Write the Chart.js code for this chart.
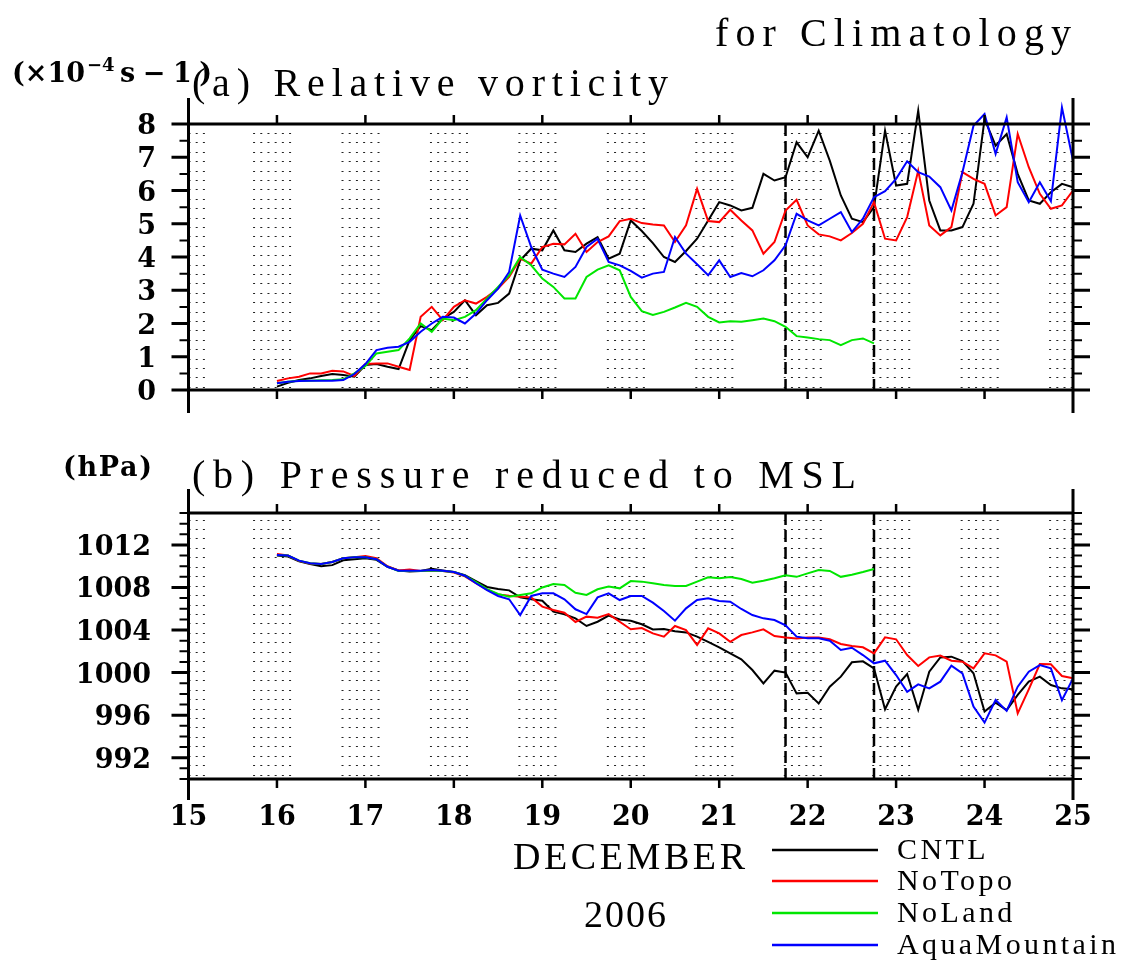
<!DOCTYPE html>
<html><head><meta charset="utf-8">
<script src="https://cdn.jsdelivr.net/npm/chart.js@4"></script>
<style>
html,body{margin:0;padding:0;background:#fff;}
#wrap{position:relative;width:1131px;height:964px;background:#fff;overflow:hidden;}
canvas{position:absolute;left:0;top:0;}
</style></head><body>
<div id="wrap"><canvas id="c1" width="1131" height="964"></canvas><canvas id="c2" width="1131" height="964"></canvas></div>
<script>
// ---- DATA ----
const TIMES = [16.000,16.125,16.250,16.375,16.500,16.625,16.750,16.875,17.000,17.125,17.250,17.375,17.500,17.625,17.750,17.875,18.000,18.125,18.250,18.375,18.500,18.625,18.750,18.875,19.000,19.125,19.250,19.375,19.500,19.625,19.750,19.875,20.000,20.125,20.250,20.375,20.500,20.625,20.750,20.875,21.000,21.125,21.250,21.375,21.500,21.625,21.750,21.875,22.000,22.125,22.250,22.375,22.500,22.625,22.750,22.875,23.000,23.125,23.250,23.375,23.500,23.625,23.750,23.875,24.000,24.125,24.250,24.375,24.500,24.625,24.750,24.875,25.000];

const SERIES = ['CNTL','NoTopo','NoLand','AquaMountain'];

// (a) Relative vorticity (x10^-4 s-1)
const vortCNTL = [0.1,0.22,0.3,0.35,0.42,0.48,0.45,0.4,0.75,0.78,0.7,0.63,1.5,1.92,1.8,2.15,2.35,2.7,2.25,2.55,2.62,2.9,3.9,4.25,4.2,4.8,4.2,4.15,4.4,4.6,3.95,4.1,5.1,4.78,4.42,4.0,3.85,4.18,4.55,5.1,5.65,5.55,5.4,5.48,6.5,6.3,6.4,7.45,7.0,7.8,6.9,5.85,5.15,5.05,5.5,7.8,6.15,6.2,8.4,5.7,4.8,4.8,4.9,5.6,8.15,7.35,7.7,6.5,5.7,5.6,5.95,6.2,6.1];
const vortNoTopo = [0.27,0.35,0.4,0.5,0.5,0.58,0.56,0.42,0.78,0.8,0.8,0.7,0.6,2.2,2.5,2.1,2.5,2.7,2.6,2.8,3.05,3.4,3.95,3.8,4.3,4.4,4.38,4.7,4.15,4.45,4.62,5.08,5.15,5.02,4.98,4.95,4.45,4.95,6.05,5.08,5.05,5.42,5.1,4.8,4.1,4.45,5.4,5.72,4.95,4.68,4.62,4.5,4.72,5.0,5.65,4.55,4.5,5.2,6.6,4.95,4.65,4.9,6.55,6.35,6.2,5.25,5.5,7.7,6.7,5.9,5.45,5.55,6.0];
const vortNoLand = [0.2,0.25,0.28,0.28,0.29,0.3,0.32,0.5,0.72,1.1,1.15,1.2,1.55,2.0,1.75,2.15,2.1,2.2,2.4,2.75,3.1,3.45,4.0,3.75,3.35,3.1,2.75,2.75,3.4,3.62,3.75,3.6,2.8,2.37,2.26,2.35,2.48,2.62,2.5,2.2,2.03,2.07,2.05,2.1,2.15,2.07,1.9,1.62,1.58,1.53,1.5,1.35,1.5,1.55,1.4,null,null,null,null,null,null,null,null,null,null,null,null,null,null,null,null,null,null];
const vortAqua = [0.2,0.25,0.27,0.28,0.28,0.28,0.3,0.48,0.78,1.2,1.27,1.3,1.45,1.75,2.0,2.2,2.18,2.0,2.3,2.7,3.05,3.55,5.25,4.3,3.62,3.5,3.4,3.7,4.3,4.55,3.85,3.75,3.58,3.38,3.5,3.55,4.6,4.1,3.78,3.45,3.9,3.4,3.52,3.42,3.6,3.9,4.35,5.3,5.1,4.95,5.15,5.35,4.75,5.15,5.8,5.98,6.35,6.88,6.55,6.42,6.1,5.4,6.55,7.95,8.3,7.1,8.2,6.25,5.65,6.25,5.68,8.5,6.9];

// (b) Pressure reduced to MSL (hPa)
const presCNTL = [1011.0,1010.9,1010.45,1010.2,1010.0,1010.1,1010.55,1010.65,1010.75,1010.6,1009.95,1009.6,1009.5,1009.55,1009.75,1009.6,1009.45,1009.15,1008.6,1008.05,1007.85,1007.73,1007.07,1006.89,1006.76,1005.73,1005.48,1005.1,1004.38,1004.78,1005.35,1005.0,1004.88,1004.54,1004.06,1004.1,1003.88,1003.78,1003.38,1002.88,1002.38,1001.81,1001.25,1000.24,998.99,1000.18,1000.0,998.05,998.1,997.1,998.68,999.62,1000.97,1001.06,1000.4,996.55,998.68,999.87,996.5,1000.09,1001.43,1001.5,1001.09,999.93,996.33,997.17,996.48,997.9,999.15,999.62,998.83,998.52,998.43];
const presNoTopo = [1011.15,1011.0,1010.5,1010.25,1010.2,1010.4,1010.75,1010.85,1010.95,1010.75,1010.0,1009.6,1009.7,1009.55,1009.6,1009.55,1009.4,1009.05,1008.4,1007.8,1007.35,1007.23,1007.14,1007.07,1006.2,1005.88,1005.63,1004.76,1005.26,1005.16,1005.5,1004.78,1004.07,1004.19,1003.69,1003.38,1004.38,1004.0,1002.6,1004.16,1003.69,1002.9,1003.53,1003.78,1004.07,1003.44,1003.3,1003.2,1003.31,1003.31,1003.13,1002.69,1002.5,1002.38,1001.81,1003.31,1003.13,1001.65,1000.62,1001.43,1001.6,1001.12,1001.03,1000.4,1001.81,1001.62,1001.03,996.17,998.43,1000.8,1000.78,999.68,999.46];
const presNoLand = [1011.05,1011.0,1010.52,1010.27,1010.2,1010.4,1010.74,1010.83,1010.83,1010.65,1009.95,1009.55,1009.55,1009.55,1009.6,1009.55,1009.45,1009.1,1008.5,1007.85,1007.4,1007.14,1007.3,1007.45,1008.0,1008.33,1008.23,1007.5,1007.3,1007.83,1008.08,1007.92,1008.6,1008.55,1008.39,1008.23,1008.14,1008.14,1008.55,1008.95,1008.86,1008.98,1008.8,1008.45,1008.64,1008.86,1009.14,1009.0,1009.33,1009.64,1009.55,1009.0,1009.2,1009.45,1009.74,null,null,null,null,null,null,null,null,null,null,null,null,null,null,null,null,null,null];
const presAqua = [1011.05,1011.0,1010.52,1010.27,1010.2,1010.4,1010.74,1010.83,1010.83,1010.65,1009.95,1009.58,1009.58,1009.58,1009.65,1009.58,1009.45,1009.1,1008.4,1007.75,1007.2,1006.89,1005.41,1007.2,1007.45,1007.45,1006.89,1005.95,1005.5,1007.07,1007.45,1006.82,1007.2,1007.2,1006.57,1005.79,1004.88,1006.04,1006.82,1006.98,1006.73,1006.67,1005.98,1005.41,1005.1,1004.94,1004.44,1003.38,1003.22,1003.22,1003.0,1002.12,1002.34,1001.65,1000.87,1001.12,999.77,998.2,998.9,998.52,999.15,1000.65,999.93,996.8,995.3,997.42,996.4,998.68,1000.09,1000.7,1000.4,997.4,999.46];

// tick labels and markers
const DAY_TICKS = [15,16,17,18,19,20,21,22,23,24,25];
const VORT_TICKS = [0,1,2,3,4,5,6,7,8];
const PRES_TICKS = [992,996,1000,1004,1008,1012];
const EVENT_LINES = [21.75, 22.75];
const NIGHT = [[14.73,15.21],[15.73,16.21],[16.73,17.21],[17.73,18.21],[18.73,19.21],[19.73,20.21],[20.73,21.21],[21.73,22.21],[22.73,23.21],[23.73,24.21],[24.73,25.21]];

// ---- STYLE ----
const COLORS = ['#000000','#ff0000','#00e600','#0000ff'];
const TICK_FONT = 'bold 27px "DejaVu Serif"';
const TITLE_FONT = '40px "Liberation Serif"';

function mkds(vals, i){
  return {label: SERIES[i], data: TIMES.map((t,k)=>({x:t, y:vals[k]})), borderColor: COLORS[i],
    backgroundColor: COLORS[i], borderWidth: 2, pointRadius: 0, tension: 0, fill: false,
    clip: false, order: 4 - i, spanGaps: false};
}

function fitText(ctx, text, x, y, font, width){
  ctx.font = font;
  ctx.letterSpacing = '0px';
  const w0 = ctx.measureText(text).width;
  const n = Array.from(text).length;
  const sp = n > 1 ? (width - w0) / (n - 1) : 0;
  ctx.letterSpacing = sp + 'px';
  ctx.textAlign = 'left';
  ctx.textBaseline = 'alphabetic';
  ctx.fillText(text, x, y);
  ctx.letterSpacing = '0px';
}

function panelPlugin(cfg){
  return {
    id: 'panel_' + cfg.name,
    beforeDatasetsDraw(chart){
      const ctx = chart.ctx, a = chart.chartArea, xs = chart.scales.x;
      ctx.save();
      ctx.strokeStyle = '#222';
      ctx.lineWidth = 1;
      ctx.setLineDash([2, 5.2]);
      for (const [s, e] of NIGHT){
        const t0 = Math.max(15, s), t1 = Math.min(25, e);
        if (t1 <= t0) continue;
        const x0 = xs.getPixelForValue(t0), x1 = xs.getPixelForValue(t1);
        for (let k = 0; k < 28; k++){
          const yy = Math.round(a.top + cfg.rowOff + k * cfg.rowStep) + 0.5;
          ctx.beginPath(); ctx.moveTo(x0, yy); ctx.lineTo(x1, yy); ctx.stroke();
        }
      }
      ctx.strokeStyle = '#000';
      ctx.lineWidth = 2.5;
      ctx.setLineDash([12, 5]);
      for (const t of EVENT_LINES){
        const xx = xs.getPixelForValue(t);
        ctx.beginPath(); ctx.moveTo(xx, a.top); ctx.lineTo(xx, a.bottom); ctx.stroke();
      }
      ctx.restore();
    },
    afterDatasetsDraw(chart){
      const ctx = chart.ctx, a = chart.chartArea, xs = chart.scales.x, ys = chart.scales.y;
      ctx.save();
      ctx.setLineDash([]);
      ctx.strokeStyle = '#000';
      ctx.fillStyle = '#000';
      ctx.lineCap = 'butt';
      ctx.lineWidth = 3;
      ctx.beginPath();
      ctx.moveTo(a.left, a.top); ctx.lineTo(a.right, a.top);
      ctx.moveTo(a.left, a.bottom); ctx.lineTo(a.right, a.bottom);
      ctx.moveTo(a.left, a.top - cfg.vExtTop); ctx.lineTo(a.left, a.bottom + cfg.vExtBot);
      ctx.moveTo(a.right, a.top - cfg.vExtTop); ctx.lineTo(a.right, a.bottom + cfg.vExtBot);
      ctx.stroke();
      for (let k = 0; k <= cfg.nMinor; k++){
        const v = cfg.yMin + k * cfg.minorStep;
        const major = cfg.majors.indexOf(v) >= 0;
        const len = major ? 17 : 9;
        const py = ys.getPixelForValue(v);
        ctx.lineWidth = major ? 3 : 2;
        ctx.beginPath();
        ctx.moveTo(a.left - len, py); ctx.lineTo(a.left, py);
        ctx.moveTo(a.right, py); ctx.lineTo(a.right + len, py);
        ctx.stroke();
      }
      ctx.lineWidth = 2.5;
      for (const d of DAY_TICKS){
        if (d === 15 || d === 25) continue;
        const px = xs.getPixelForValue(d);
        ctx.beginPath();
        ctx.moveTo(px, a.top - 9); ctx.lineTo(px, a.top);
        ctx.moveTo(px, a.bottom); ctx.lineTo(px, a.bottom + 9);
        ctx.stroke();
      }
      ctx.font = TICK_FONT;
      ctx.textAlign = 'right';
      ctx.textBaseline = 'alphabetic';
      for (const v of cfg.majors){
        ctx.fillText(String(v), cfg.labelRight, ys.getPixelForValue(v) + 10);
      }
      if (cfg.xLabels){
        ctx.textAlign = 'center';
        for (const d of DAY_TICKS){
          ctx.fillText(String(d), xs.getPixelForValue(d), a.bottom + 46);
        }
      }
      ctx.restore();
    }
  };
}

const textPlugin = {
  id: 'texts',
  afterDraw(chart){
    const ctx = chart.ctx;
    ctx.save();
    ctx.fillStyle = '#000';
    fitText(ctx, 'for Climatology', 715, 46, TITLE_FONT, 356);
    fitText(ctx, '(a) Relative vorticity', 192, 96, TITLE_FONT, 476);
    fitText(ctx, '(b) Pressure reduced to MSL', 192, 488, TITLE_FONT, 664);
    ctx.font = TICK_FONT; ctx.textAlign = 'left'; ctx.textBaseline = 'alphabetic';
    ctx.letterSpacing = '0px';
    ctx.fillText('(\u00d710', 12, 82);
    const w1 = ctx.measureText('(\u00d710').width;
    ctx.font = 'bold 18px "DejaVu Serif"';
    ctx.fillText('\u22124', 12 + w1 + 2, 71);
    fitText(ctx, 's\u22121)', 120, 82, TICK_FONT, 92);
    fitText(ctx, '(hPa)', 63, 476, TICK_FONT, 89);
    fitText(ctx, 'DECEMBER', 513, 869, '38px "Liberation Serif"', 232);
    fitText(ctx, '2006', 584, 927, '38px "Liberation Serif"', 82);
    const ly = [850, 881, 913, 945];
    for (let i = 0; i < SERIES.length; i++){
      ctx.strokeStyle = COLORS[i]; ctx.lineWidth = 2.5; ctx.setLineDash([]);
      ctx.beginPath(); ctx.moveTo(772, ly[i]); ctx.lineTo(878, ly[i]); ctx.stroke();
      ctx.font = '30px "Liberation Serif"';
      ctx.letterSpacing = '3.4px';
      ctx.textAlign = 'left';
      ctx.fillText(SERIES[i], 897, ly[i] + 9);
      ctx.letterSpacing = '0px';
    }
    ctx.restore();
  }
};

function baseOptions(pad, yMin, yMax){
  return {
    responsive: false, animation: false, devicePixelRatio: 1, events: [],
    layout: {padding: pad},
    plugins: {legend: {display: false}, tooltip: {enabled: false}, title: {display: false}},
    elements: {point: {radius: 0}, line: {tension: 0}},
    scales: {
      x: {type: 'linear', min: 15, max: 25, display: false},
      y: {type: 'linear', min: yMin, max: yMax, display: false}
    }
  };
}

new Chart(document.getElementById('c1'), {
  type: 'line',
  data: {datasets: [mkds(vortCNTL,0), mkds(vortNoTopo,1), mkds(vortNoLand,2), mkds(vortAqua,3)]},
  options: baseOptions({left: 188.5, right: 58, top: 124, bottom: 574}, 0, 8),
  plugins: [panelPlugin({name: 'a', rowOff: 9, rowStep: 9.4, vExtTop: 26, vExtBot: 23,
    yMin: 0, minorStep: 0.5, nMinor: 16, majors: VORT_TICKS, labelRight: 156, xLabels: false})]
});

new Chart(document.getElementById('c2'), {
  type: 'line',
  data: {datasets: [mkds(presCNTL,0), mkds(presNoTopo,1), mkds(presNoLand,2), mkds(presAqua,3)]},
  options: baseOptions({left: 188.5, right: 58, top: 513, bottom: 185}, 990, 1015),
  plugins: [panelPlugin({name: 'b', rowOff: 6.5, rowStep: 9.45, vExtTop: 24, vExtBot: 21,
    yMin: 990, minorStep: 1, nMinor: 25, majors: PRES_TICKS, labelRight: 151, xLabels: true}), textPlugin]
});
</script>
</body></html>
